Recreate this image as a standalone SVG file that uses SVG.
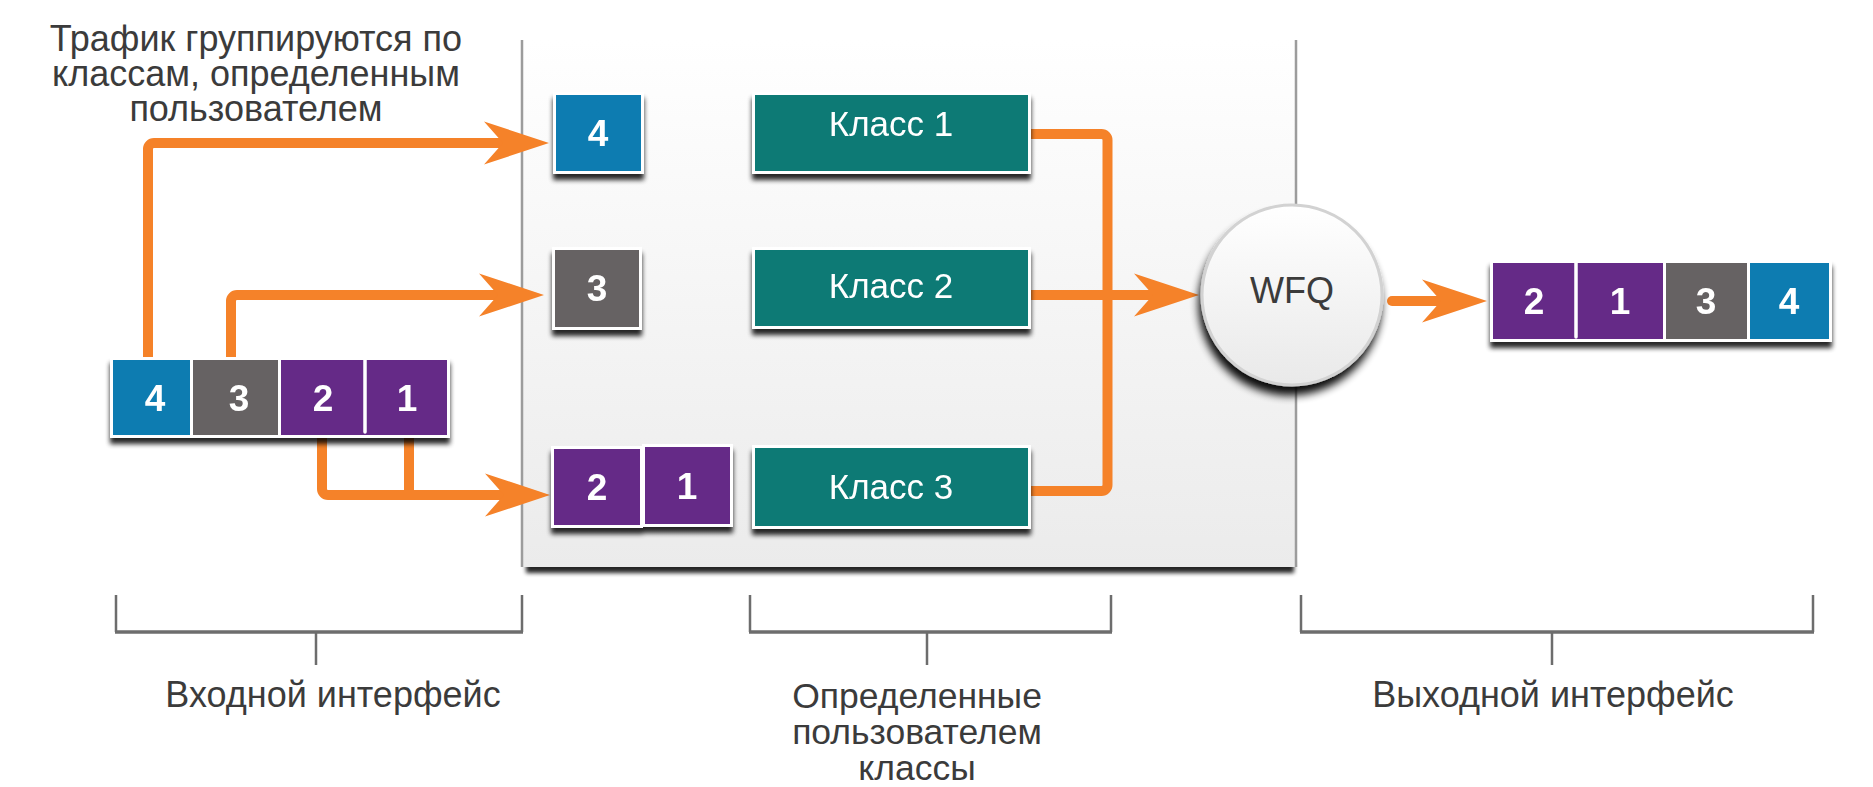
<svg xmlns="http://www.w3.org/2000/svg" xmlns:xlink="http://www.w3.org/1999/xlink" width="1873" height="787" viewBox="0 0 1873 787">
<defs>
<style>
.lbl{font-family:"Liberation Sans",Arial,sans-serif;fill:#3b3b3b;text-anchor:middle}
.big{font-size:36px}
.cls{font-family:"Liberation Sans",Arial,sans-serif;font-size:35px;fill:#ffffff;text-anchor:middle}
.dig{font-family:"Liberation Sans",Arial,sans-serif;font-weight:bold;font-size:37px;fill:#ffffff;text-anchor:middle}
.blue{fill:#097cb1;stroke:#ffffff;stroke-width:3}
.gray{fill:#666263;stroke:#ffffff;stroke-width:3}
.purp{fill:#652c87;stroke:#ffffff;stroke-width:3}
.teal{fill:#0a7a74;stroke:#ffffff;stroke-width:3}
.ln{fill:none;stroke:#f58229;stroke-width:10}
.head{fill:#f58229}
.br{fill:none;stroke:#6d6d6d;stroke-width:2.5}
.brh{fill:none;stroke:#6d6d6d;stroke-width:3.5}
</style>
<linearGradient id="pg" x1="0" y1="0" x2="0" y2="1">
<stop offset="0" stop-color="#ffffff"/>
<stop offset="1" stop-color="#ebebeb"/>
</linearGradient>
<linearGradient id="cg" x1="0" y1="0" x2="0" y2="1">
<stop offset="0" stop-color="#ffffff"/>
<stop offset="1" stop-color="#e9e9e9"/>
</linearGradient>
<filter id="sh" x="-10%" y="-10%" width="120%" height="150%">
<feGaussianBlur in="SourceAlpha" stdDeviation="2.5"/>
<feOffset dy="6" result="o"/>
<feComponentTransfer><feFuncA type="linear" slope="0.85"/></feComponentTransfer>
<feMerge><feMergeNode/><feMergeNode in="SourceGraphic"/></feMerge>
</filter>
<filter id="csh" x="-20%" y="-20%" width="140%" height="150%">
<feGaussianBlur in="SourceAlpha" stdDeviation="4"/>
<feOffset dx="-2" dy="9" result="o"/>
<feComponentTransfer><feFuncA type="linear" slope="0.95"/></feComponentTransfer>
<feMerge><feMergeNode/><feMergeNode in="SourceGraphic"/></feMerge>
</filter>
<filter id="bl" x="-5%" y="-50%" width="110%" height="200%">
<feGaussianBlur stdDeviation="2"/>
</filter>
<path id="ah" d="M0,0 L-65,-21.5 L-46,0 L-65,21.5 Z"/>
</defs>

<rect width="1873" height="787" fill="#ffffff"/>

<g id="panel">
<rect x="526" y="562" width="768" height="11" fill="#000" opacity="0.85" filter="url(#bl)"/>
<rect x="522" y="40" width="774" height="527" fill="url(#pg)"/>
<line x1="522" y1="40" x2="522" y2="567" stroke="#9c9c9c" stroke-width="2.5"/>
<line x1="1296" y1="40" x2="1296" y2="567" stroke="#9c9c9c" stroke-width="2.5"/>
</g>

<g id="caption-top">
<text class="lbl big" x="256" y="51">Трафик группируются по</text>
<text class="lbl big" x="256" y="86">классам, определенным</text>
<text class="lbl big" x="256" y="121">пользователем</text>
</g>

<g id="connectors">
<path class="ln" d="M148,357 V149 A6,6 0 0 1 154,143 H504"/>
<use href="#ah" x="549" y="143" class="head"/>
<path class="ln" d="M231,357 V301 A6,6 0 0 1 237,295 H499"/>
<use href="#ah" x="544" y="295" class="head"/>
<path class="ln" d="M322,436 V489 A6,6 0 0 0 328,495 H505"/>
<path class="ln" d="M409,436 V495"/>
<use href="#ah" x="550" y="495" class="head"/>
<path class="ln" d="M1029,134 H1101.5 A6,6 0 0 1 1107.5,140 V485 A6,6 0 0 1 1101.5,491 H1029"/>
<path class="ln" d="M1029,295 H1154"/>
<use href="#ah" x="1199" y="295" class="head"/>
<path class="ln" d="M1392,301 H1442" stroke-linecap="round"/>
<use href="#ah" x="1487" y="301" class="head"/>
</g>

<g id="input-queue" filter="url(#sh)">
<rect class="blue" x="111.5" y="358.5" width="80" height="78"/>
<rect class="gray" x="191.5" y="358.5" width="88" height="78"/>
<rect class="purp" x="279.5" y="358.5" width="169" height="78"/>
<line x1="365" y1="360" x2="365" y2="432" stroke="#ffffff" stroke-width="3.5" stroke-linecap="round"/>
<text class="dig" x="155" y="411">4</text>
<text class="dig" x="239" y="411">3</text>
<text class="dig" x="323" y="411">2</text>
<text class="dig" x="407" y="411">1</text>
</g>

<g id="pkt4" filter="url(#sh)">
<rect class="blue" x="554.5" y="93.5" width="88" height="79"/>
<text class="dig" x="598" y="146">4</text>
</g>
<g id="pkt3" filter="url(#sh)">
<rect class="gray" x="553.5" y="248.5" width="87" height="80"/>
<text class="dig" x="597" y="301">3</text>
</g>
<g id="pkt21" filter="url(#sh)">
<rect class="purp" x="552.5" y="447.5" width="89" height="79"/>
<rect class="purp" x="643.5" y="445.5" width="88" height="80"/>
<text class="dig" x="597" y="500">2</text>
<text class="dig" x="687" y="499">1</text>
</g>

<g id="class1" filter="url(#sh)">
<rect class="teal" x="753.5" y="93.5" width="276" height="79"/>
<text class="cls" x="891" y="136">Класс 1</text>
</g>
<g id="class2" filter="url(#sh)">
<rect class="teal" x="753.5" y="248.5" width="276" height="79"/>
<text class="cls" x="891" y="298">Класс 2</text>
</g>
<g id="class3" filter="url(#sh)">
<rect class="teal" x="753.5" y="446.5" width="276" height="81"/>
<text class="cls" x="891" y="499">Класс 3</text>
</g>

<g id="wfq">
<circle cx="1292" cy="295" r="90" fill="url(#cg)" stroke="#d2d2d2" stroke-width="3" filter="url(#csh)"/>
<text class="lbl" x="1292" y="303" font-size="36" fill="#333333">WFQ</text>
</g>

<g id="output-queue" filter="url(#sh)">
<rect class="purp" x="1491.5" y="261.5" width="173" height="79"/>
<rect class="gray" x="1664.5" y="261.5" width="84" height="79"/>
<rect class="blue" x="1748.5" y="261.5" width="82" height="79"/>
<line x1="1576" y1="263" x2="1576" y2="337" stroke="#ffffff" stroke-width="3.5" stroke-linecap="round"/>
<text class="dig" x="1534" y="314">2</text>
<text class="dig" x="1620" y="314">1</text>
<text class="dig" x="1706" y="314">3</text>
<text class="dig" x="1789" y="314">4</text>
</g>

<g id="bracket-in">
<path class="br" d="M116,595 V632 M522,595 V632 M316,632 V665"/>
<path class="brh" d="M115,632 H523"/>
<text class="lbl" x="333" y="707" font-size="36">Входной интерфейс</text>
</g>
<g id="bracket-classes">
<path class="br" d="M750,595 V632 M1111,595 V632 M927,632 V665"/>
<path class="brh" d="M749,632 H1112"/>
<text class="lbl" x="917" y="708" font-size="35.5">Определенные</text>
<text class="lbl" x="917" y="744" font-size="35.5">пользователем</text>
<text class="lbl" x="917" y="780" font-size="35.5">классы</text>
</g>
<g id="bracket-out">
<path class="br" d="M1301,595 V632 M1813,595 V632 M1552,632 V665"/>
<path class="brh" d="M1300,632 H1814"/>
<text class="lbl" x="1553" y="707" font-size="36">Выходной интерфейс</text>
</g>
</svg>
